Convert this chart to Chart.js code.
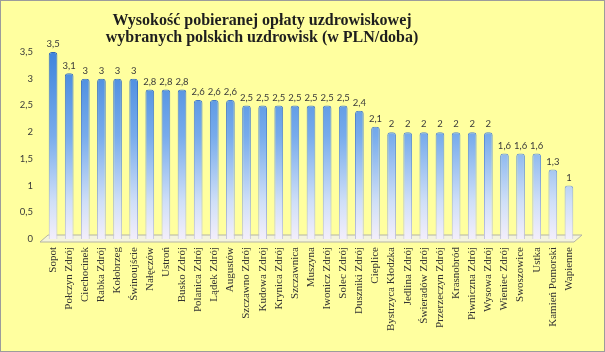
<!DOCTYPE html>
<html>
<head>
<meta charset="utf-8">
<script src="https://cdn.jsdelivr.net/npm/chart.js@4/dist/chart.umd.min.js"></script>
<style>
  html, body { margin: 0; padding: 0; background: #fff; }
  .box {
    width: 605px; height: 352px; box-sizing: border-box;
    border: 1px solid #9c9c9c; background: #ffff9f; position: relative;
  }
  canvas { display: block; }
</style>
</head>
<body>
<div class="box"><canvas id="chart" width="603" height="350"></canvas></div>
<script>
const categories = [
  "Sopot", "Połczyn Zdrój", "Ciechocinek", "Rabka Zdrój", "Kołobrzeg", "Świnoujście",
  "Nałęczów", "Ustroń", "Busko Zdrój", "Polanica Zdrój", "Lądek Zdrój", "Augustów",
  "Szczawno Zdrój", "Kudowa Zdrój", "Krynica Zdrój", "Szczawnica", "Muszyna",
  "Iwonicz Zdrój", "Solec Zdrój", "Duszniki Zdrój", "Cieplice", "Bystrzyca Kłodzka",
  "Jedlina Zdrój", "Świeradów Zdrój", "Przerzeczyn Zdrój", "Krasnobród",
  "Piwniczna Zdrój", "Wysowa Zdrój", "Wieniec Zdrój", "Swoszowice", "Ustka",
  "Kamień Pomorski", "Wapienne"
];
const fees = [
  3.5, 3.1, 3, 3, 3, 3,
  2.8, 2.8, 2.8, 2.6, 2.6, 2.6,
  2.5, 2.5, 2.5, 2.5, 2.5,
  2.5, 2.5, 2.4, 2.1, 2,
  2, 2, 2, 2,
  2, 2, 1.6, 1.6, 1.6,
  1.3, 1
];
const yTicks = [0, 0.5, 1, 1.5, 2, 2.5, 3, 3.5];
const titleLines = ["Wysokość pobieranej opłaty uzdrowiskowej", "wybranych polskich uzdrowisk (w PLN/doba)"];

const fmt = v => String(v).replace(".", ",");

function barGradient(chart, stops) {
  const a = chart.chartArea;
  if (!a) return stops[0][1];
  const g = chart.ctx.createLinearGradient(0, a.top, 0, a.bottom);
  stops.forEach(([p, c]) => g.addColorStop(p, c));
  return g;
}

// 3d-ish floor, value labels above bars, title
const extras = {
  id: "extras",
  beforeDatasetsDraw(chart) {
    const { ctx, chartArea: a } = chart;
    ctx.save();
    ctx.beginPath();
    ctx.moveTo(a.left - 5, a.bottom + 3);
    ctx.lineTo(a.left + 3, a.bottom - 4);
    ctx.lineTo(a.right + 5, a.bottom - 4);
    ctx.lineTo(a.right - 3, a.bottom + 3);
    ctx.closePath();
    ctx.fillStyle = "#f4f4dc";
    ctx.fill();
    ctx.strokeStyle = "#b4b4a4";
    ctx.lineWidth = 1;
    ctx.stroke();
    ctx.restore();
  },
  afterDatasetsDraw(chart) {
    const ctx = chart.ctx;
    const meta = chart.getDatasetMeta(0);
    ctx.save();
    ctx.fillStyle = "#3a3a3a";
    ctx.font = "9.5px Lato";
    ctx.textAlign = "center";
    ctx.textBaseline = "bottom";
    meta.data.forEach((bar, i) => {
      ctx.fillText(fmt(fees[i]), bar.x, bar.y - 3);
    });
    ctx.restore();
  },
  afterDraw(chart) {
    const ctx = chart.ctx;
    ctx.save();
    ctx.fillStyle = "#1e1e1e";
    ctx.font = "bold 16px 'Liberation Serif'";
    ctx.textAlign = "center";
    ctx.textBaseline = "middle";
    ctx.fillText(titleLines[0], 261, 20);
    ctx.fillText(titleLines[1], 261, 37);
    ctx.restore();
  }
};

new Chart(document.getElementById("chart"), {
  type: "bar",
  data: {
    labels: categories,
    datasets: [{
      data: fees,
      barPercentage: 0.54,
      categoryPercentage: 1,
      borderWidth: 1,
      borderRadius: { topLeft: 3, topRight: 3 },
      borderSkipped: "bottom",
      backgroundColor: ctx => barGradient(ctx.chart, [
        [0, "#3f84dc"], [0.45, "#78acec"], [0.8, "#cfdff8"], [1, "#f3eefb"]
      ]),
      borderColor: ctx => barGradient(ctx.chart, [
        [0, "#2c66b8"], [0.6, "#6a98d8"], [1, "#c4c4dc"]
      ])
    }]
  },
  options: {
    responsive: false,
    animation: false,
    layout: { padding: { top: 51, left: 4, right: 27, bottom: 6 } },
    plugins: {
      legend: { display: false },
      tooltip: { enabled: false }
    },
    scales: {
      x: {
        grid: { display: false, drawTicks: false },
        border: { display: false },
        ticks: {
          autoSkip: false,
          maxRotation: 90,
          minRotation: 90,
          padding: 8,
          color: "#333",
          font: { family: "'Liberation Serif'", size: 11 }
        },
        afterFit(scale) { scale.height = 106; }
      },
      y: {
        min: 0,
        max: 3.5,
        grid: { display: false, drawTicks: false },
        border: { display: false },
        afterBuildTicks(scale) { scale.ticks = yTicks.map(v => ({ value: v })); },
        ticks: {
          padding: 12,
          color: "#3a3a3a",
          font: { family: "Lato", size: 9.5 },
          callback: v => fmt(v)
        },
        afterFit(scale) { scale.width = 40; }
      }
    }
  },
  plugins: [extras]
});
</script>
</body>
</html>
